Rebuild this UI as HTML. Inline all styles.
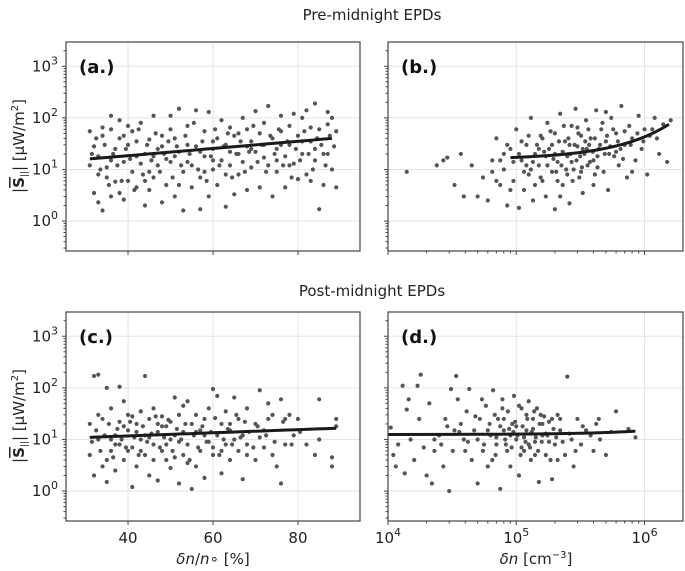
<!DOCTYPE html>
<html><head><meta charset="utf-8">
<style>
body{margin:0;background:#fff;}
svg{display:block;font-family:"DejaVu Sans","Liberation Sans",sans-serif;}
</style></head>
<body>
<svg id="fig" width="685" height="571" viewBox="0 0 685 571">
<text x="372" y="20" text-anchor="middle" font-size="15" fill="#222">Pre-midnight EPDs</text>
<text x="372" y="296" text-anchor="middle" font-size="15" fill="#222">Post-midnight EPDs</text>
<g id="plots"></g>
</svg>
<script>
// Panel (a): δn/n∘ [%] vs |S|
const aPts=[31,55,31,12,32,28,32,3.5,33,2.3,33,18,34,1.6,34,65,35,7,35,11,36,60,36,110,37,25,37,5.8,38,90,38,40,39,2.6,39,14,40,6,40,30,41,55,41,9,42,4.5,42,35,43,80,43,13,44,2,44,20,45,38,45,4,46,7,46,110,47,12,47,25,48,2.3,48,45,49,16,49,5,50,60,50,110,51,3,51,18,52,150,52,22,53,1.6,53,9,54,30,54,70,55,12,55,4.5,56,140,56,28,57,1.7,57,7,58,55,58,18,59,130,59,3,60,25,60,10,61,40,61,5,62,90,62,15,63,1.9,63,30,64,12,64,65,65,3.3,65,45,66,20,66,8,67,100,67,14,68,4,68,60,69,35,69,11,70,135,70,22,71,4.5,71,50,72,17,72,80,73,170,73,12,74,3,74,40,75,25,75,9,76,110,76,55,77,18,77,4.5,78,70,78,30,79,120,79,13,80,6.5,80,45,81,20,81,100,82,8,82,140,83,35,83,6,84,190,84,15,85,1.7,85,60,86,20,86,5,87,75,87,130,88,10,88,100,89,4.5,89,55,33,8,36,15,39,45,42,18,45,9,48,28,51,40,54,14,57,22,60,35,63,8,66,50,69,25,72,30,75,15,78,12,81,35,84,25,87,20,36,3,40,70,44,6,50,14,58,9,64,22,
31.5,20,32.5,40,33.5,10,34.5,30,35.5,5,36.5,20,37.5,12,38.5,6,39.5,25,40.5,16,41.5,4,42.5,60,43.5,8,44.5,30,45.5,15,46.5,50,47.5,9,48.5,20,49.5,35,50.5,7,51.5,28,52.5,12,53.5,45,54.5,20,55.5,80,56.5,10,57.5,35,58.5,6,59.5,18,60.5,60,61.5,12,62.5,28,63.5,50,64.5,7,65.5,20,66.5,35,67.5,9,68.5,22,69.5,70,70.5,14,71.5,30,72.5,9,73.5,45,74.5,20,75.5,60,76.5,12,77.5,35,78.5,7,79.5,25,80.5,15,81.5,55,82.5,20,83.5,10,84.5,40,85.5,30,86.5,12,87.5,45,88.5,28,34,45,38,3.5,46,18,52,5,60,15,68,28,76,30,83,65];
const aFit=[31,16,88,40];
// Panel (b): δn [cm^-3] vs |S|
const bPts=[1.4e4,9,2.7e4,15,2.9e4,17,3.7e4,20,3.3e4,5,4.5e4,12,5e4,3,5.5e4,7,6e4,2.5,6.5e4,15,7e4,40,7.5e4,5,8e4,10,8.5e4,2,9e4,25,9.5e4,6,1e5,60,1.05e5,1.8,1.1e5,15,1.15e5,4,1.2e5,30,1.25e5,8,1.3e5,100,1.35e5,2.5,1.4e5,20,1.5e5,12,1.55e5,45,1.6e5,6,1.7e5,3,1.75e5,80,1.8e5,25,1.9e5,9,2e5,1.7,2e5,50,2.1e5,14,2.2e5,120,2.3e5,5,2.4e5,35,2.5e5,18,2.6e5,2.2,2.7e5,70,2.8e5,10,2.9e5,150,3e5,28,3.1e5,7,3.2e5,45,3.3e5,3.5,3.4e5,20,3.5e5,90,3.6e5,12,3.8e5,40,4e5,5,4.2e5,140,4.4e5,25,4.6e5,60,4.8e5,9,5e5,35,5.2e5,4,5.5e5,100,5.8e5,18,6e5,50,6.3e5,12,6.6e5,170,7e5,30,7.3e5,7,7.6e5,70,8e5,40,8.5e5,15,9e5,110,9.5e5,25,1e6,60,1.05e6,8,1.1e6,45,1.2e6,100,1.3e6,20,1.4e6,75,1.5e6,14,1.6e6,90,2.2e5,3,1.6e5,40,3e5,65,4e5,15,5e5,130,6e5,22,2.5e5,8,1.9e5,30,1.2e5,12,1.4e5,5,2.3e5,22,2.7e5,14,3.2e5,9,3.7e5,30,4.3e5,11,5.3e5,20,6.8e5,16,8e5,9,2.1e5,6,1.7e5,18,1.1e5,35,8e4,20,7e4,6,3.9e4,3,2.4e4,12,9e4,4,
1.05e5,20,1.15e5,9,1.25e5,45,1.35e5,14,1.45e5,30,1.55e5,7,1.65e5,22,1.75e5,12,1.85e5,55,1.95e5,16,2.05e5,9,2.15e5,35,2.25e5,12,2.35e5,70,2.45e5,10,2.55e5,40,2.65e5,20,2.75e5,6,2.85e5,30,2.95e5,15,3.05e5,50,3.15e5,18,3.25e5,11,3.45e5,35,3.55e5,25,3.65e5,60,3.75e5,14,3.95e5,22,4.1e5,40,4.3e5,18,4.5e5,30,4.7e5,80,4.9e5,20,5.1e5,45,5.4e5,28,5.7e5,60,6.2e5,35,6.5e5,25,7e5,55,7.8e5,30,8.8e5,50,9.8e5,35,1.15e6,60,1.25e6,40,2.6e5,30,3.3e5,25,4.1e5,8,2e5,20,1.5e5,25,1.3e5,10,9.5e4,14,8.5e4,30,7.5e4,15,6.5e4,9];
const bFit=[9e4,17,1.55e6,75];
// Panel (c)
const cPts=[31,5,31,20,32,170,32,2,33,180,33,10,34,3,34,25,35,100,35,1.5,36,6,36,40,37,12,37,2.5,38,105,38,8,39,55,39,4,40,15,40,30,41,1.2,41,7,42,20,42,3,43,35,43,10,44,170,44,5,45,25,45,2,46,8,46,40,47,1.6,47,14,48,28,48,6,49,4,49,18,50,10,50,2.8,51,65,51,12,52,1.4,52,30,53,5,53,45,54,55,54,8,55,1.1,55,20,56,3,56,30,57,15,57,6,58,1.8,58,25,59,9,59,40,60,95,60,5,61,12,61,70,62,2.2,62,20,63,8,63,35,64,4,64,15,65,65,65,10,66,25,66,6,67,1.7,67,12,68,40,68,8,70,20,70,4,71,90,71,11,72,15,72,7,73,50,73,25,74,5,74,30,75,3,76,60,76,1.4,77,8,77,25,78,30,79,12,80,25,82,8,84,5,85,60,85,10,88,3,88,4.5,89,25,89,18,36,10,40,6,44,12,48,18,52,9,56,14,60,7,64,20,68,5,38,22,42,14,46,4,50,22,54,3.5,58,12,62,6,
31.5,9,32.5,15,33.5,6,34.5,12,35.5,20,36.5,4.5,37.5,16,38.5,10,39.5,7,40.5,22,41.5,11,42.5,5,43.5,18,44.5,9,45.5,13,46.5,28,47.5,7,48.5,11,49.5,24,50.5,6,51.5,16,52.5,10,53.5,20,54.5,4,55.5,12,56.5,7,57.5,18,58.5,9,59.5,14,60.5,26,61.5,5,62.5,10,63.5,16,64.5,8,65.5,30,66.5,11,67.5,22,68.5,14,69.5,7,70.5,18,72.5,12,74.5,9,76.5,22,78.5,8,80.5,14,33,30,35,4,37,8,39,18,41,28,43,6,45,11,47,20,49,8,51,4.5,53,14];
const cFit=[31,11,89,16.5];
// Panel (d)
const dPts=[1.05e4,17,1.1e4,5,1.15e4,3,1.2e4,8,1.3e4,110,1.35e4,2.2,1.4e4,38,1.45e4,60,1.5e4,10,1.6e4,4,1.7e4,110,1.75e4,25,1.8e4,180,1.9e4,7,2e4,2,2.1e4,50,2.2e4,1.4,2.3e4,6,2.5e4,12,2.7e4,3,2.9e4,18,3e4,1,3.1e4,95,3.2e4,6,3.4e4,170,3.5e4,60,3.7e4,20,3.9e4,10,4.1e4,35,4.3e4,95,4.5e4,4,4.7e4,15,5e4,1.4,5.2e4,25,5.4e4,60,5.6e4,8,5.8e4,45,6e4,3,6.3e4,12,6.6e4,90,6.9e4,5,7.2e4,25,7.5e4,1.1,7.8e4,60,8e4,15,8.3e4,8,8.6e4,35,9e4,3,9.3e4,20,9.6e4,70,1e5,10,1.05e5,2,1.1e5,40,1.15e5,6,1.2e5,15,1.25e5,55,1.3e5,4,1.35e5,25,1.4e5,9,1.5e5,1.5,1.55e5,30,1.6e5,12,1.7e5,5,1.8e5,22,1.9e5,1.7,2e5,8,2.1e5,30,2.2e5,15,2.4e5,5,2.5e5,165,2.7e5,10,2.8e5,3,3e5,25,3.2e5,8,3.5e5,15,4e5,6,4.2e5,20,4.5e5,10,5e5,5,6e5,35,7.5e5,16,8.5e5,11,6e4,15,7e4,8,8e4,25,9e4,12,1e5,18,1.1e5,7,1.2e5,30,1.3e5,13,1.4e5,5,1.6e5,20,1.8e5,9,5e4,10,4e4,6,3.3e4,15,2.6e4,8,6.5e4,4,7.5e4,18,8.5e4,6,9.5e4,14,1.15e5,11,1.35e5,16,1.7e5,13,2.3e5,9,
8.2e4,10,8.8e4,16,9.2e4,7,9.8e4,22,1.02e5,12,1.08e5,5,1.12e5,18,1.18e5,9,1.22e5,25,1.28e5,7,1.32e5,14,1.38e5,35,1.42e5,11,1.48e5,6,1.52e5,20,1.58e5,9,1.65e5,28,1.75e5,12,1.85e5,4,1.95e5,16,2.05e5,11,2.2e5,25,2.6e5,13,2.9e5,6,3.3e5,18,3.8e5,12,4.4e5,25,5.5e5,14,7e4,11,6.2e4,20,5.5e4,6,4.8e4,28,4.2e4,9,3.6e4,14,2.8e4,25,2.3e4,10,7.8e4,40,6.8e4,30,1.05e5,45,1.25e5,8,1.45e5,40,1.9e5,25,2.1e5,4];
const dFit=[1e4,12.5,8.5e5,14.5];
const yTicks=[0,1,2,3];
const linTicks=[40,60,80];
const logTicks=[4,5,6];

const NS="http://www.w3.org/2000/svg";
const root=document.getElementById('plots');
function mk(tag,attrs,parent){const e=document.createElementNS(NS,tag);for(const k in attrs)e.setAttribute(k,attrs[k]);(parent||root).appendChild(e);return e;}

const panels=[
 {id:'a',L:66,R:360,T:42,B:251,log:false,x0:25.4,x1:94.6,pts:aPts,fit:aFit,xl:false,yl:true},
 {id:'b',L:388,R:683,T:42,B:251,log:true,x0:4,x1:6.30,pts:bPts,fit:bFit,xl:false,yl:false},
 {id:'c',L:66,R:360,T:312,B:521,log:false,x0:25.4,x1:94.6,pts:cPts,fit:cFit,xl:true,yl:true},
 {id:'d',L:388,R:683,T:312,B:521,log:true,x0:4,x1:6.30,pts:dPts,fit:dFit,xl:true,yl:false}
];
const yMin=-0.58,yMax=3.47;
panels.forEach(p=>{
 const g=mk('g',{});
 
 
 const sx=v=>{const t=p.log?Math.log10(v):v;return p.L+(t-p.x0)/(p.x1-p.x0)*(p.R-p.L);};
 const sy=v=>p.B-(Math.log10(v)-yMin)/(yMax-yMin)*(p.B-p.T);
 yTicks.forEach(e=>{const y=sy(Math.pow(10,e));const l=mk('line',{x1:p.L,x2:p.R,y1:y,y2:y,stroke:'#e3e3e3','stroke-width':1},g);
  });
 const xt=p.log?logTicks.map(e=>Math.pow(10,e)):linTicks;
 xt.forEach(v=>{const x=sx(v);const l=mk('line',{x1:x,x2:x,y1:p.T,y2:p.B,stroke:'#e3e3e3','stroke-width':1},g);
  
  mk('line',{x1:x,x2:x,y1:p.B,y2:p.B+4,stroke:'#444'},g);
  if(p.xl){const t=mk('text',{x:x,y:p.B+22,'text-anchor':'middle','font-size':15,fill:'#222'},g);
   
   if(p.log){t.textContent='10';const s=mk('tspan',{dy:-7,'font-size':11},t);s.textContent=Math.round(Math.log10(v));}
   else t.textContent=v;}
 });
 if(p.log){for(let e=4;e<7;e++)for(let m=2;m<10;m++){const v=m*Math.pow(10,e);const x=sx(v);if(x<=p.R)mk('line',{x1:x,x2:x,y1:p.B,y2:p.B+2.5,stroke:'#444'},g);}}
 for(let e=-1;e<4;e++){for(let m=1;m<10;m++){const v=m*Math.pow(10,e);const y=sy(v);if(y<p.T||y>p.B)continue;
  mk('line',{x1:p.L-(m==1?4:2.5),x2:p.L,y1:y,y2:y,stroke:'#444'},g);}}
 if(p.yl)yTicks.forEach(e=>{const y=sy(Math.pow(10,e));const t=mk('text',{x:p.L-8,y:y+5,'text-anchor':'end','font-size':15,fill:'#222'},g);
  
  t.textContent='10';const s=mk('tspan',{dy:-7,'font-size':11},t);s.textContent=e;});
 for(let i=0;i<p.pts.length;i+=2){const c=mk('circle',{cx:sx(p.pts[i]),cy:sy(p.pts[i+1]),r:2.1,fill:'#555'},g);
  }
 let d='';const N=40;const [fx0,fy0,fx1,fy1]=p.fit;
 for(let k=0;k<=N;k++){const xv=fx0+(fx1-fx0)*k/N;const ly=Math.log10(fy0)+(Math.log10(fy1)-Math.log10(fy0))*(xv-fx0)/(fx1-fx0);
  d+=(k?'L':'M')+sx(xv).toFixed(2)+','+sy(Math.pow(10,ly)).toFixed(2);}
 const fl=mk('path',{d:d,fill:'none',stroke:'#1a1a1a','stroke-width':3},g);
 
 const fr=mk('rect',{x:p.L,y:p.T,width:p.R-p.L,height:p.B-p.T,fill:'none',stroke:'#444','stroke-width':1.2},g);
 
 const lab=mk('text',{x:p.L+13,y:p.T+31,'font-size':18,'font-weight':'bold',fill:'#111'},g);
 
 lab.textContent='('+p.id+'.)';
});
function ylab(cy,name){const t=mk('text',{transform:'translate(24,'+cy+') rotate(-90)','text-anchor':'middle','font-size':15,fill:'#222'});
 
 t.innerHTML='|<tspan font-weight="bold" text-decoration="overline">S</tspan><tspan font-size="9" dy="3">||</tspan><tspan dy="-3">| [μW/m</tspan><tspan font-size="10" dy="-6">2</tspan><tspan dy="6">]</tspan>';}
ylab(146,'y-axis-title-top');ylab(416,'y-axis-title-bottom');
const x1=mk('text',{x:213,y:564,'text-anchor':'middle','font-size':15,fill:'#222'});

x1.innerHTML='<tspan font-style="italic">δn</tspan>/<tspan font-style="italic">n</tspan>∘ [%]';
const x2=mk('text',{x:536,y:564,'text-anchor':'middle','font-size':15,fill:'#222'});

x2.innerHTML='<tspan font-style="italic">δn</tspan> [cm<tspan font-size="10" dy="-6">−3</tspan><tspan dy="6">]</tspan>';
</script>
</body></html>
